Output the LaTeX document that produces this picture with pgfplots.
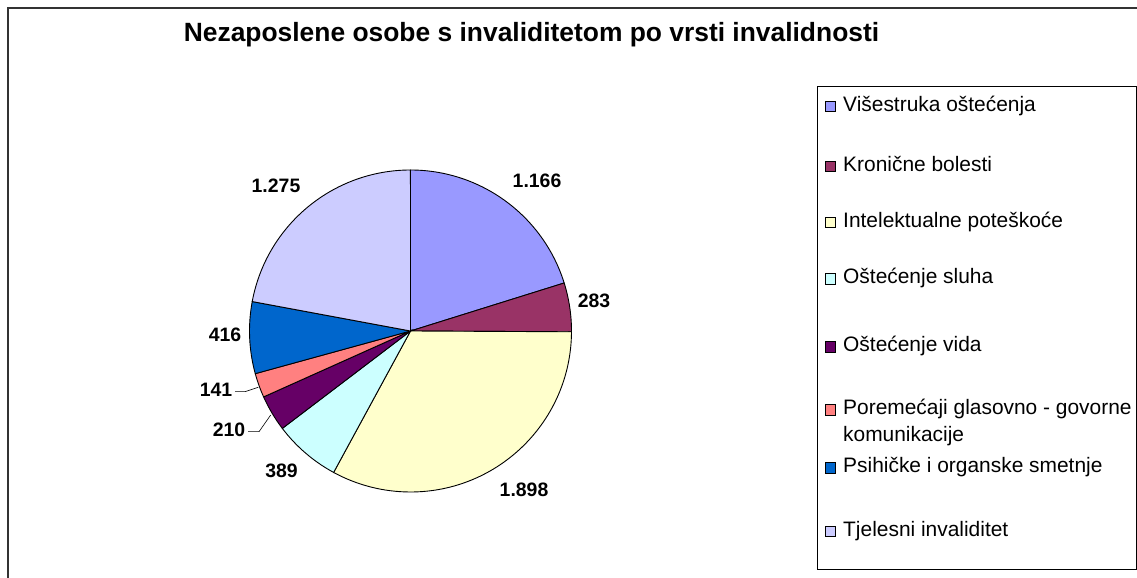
\documentclass[border=0pt]{standalone}
\usepackage{pgfplots}
\usepackage{pgfplotstable}
\pgfplotsset{compat=1.18}
\usepackage{fontspec}
\setmainfont{Liberation Sans}
\definecolor{c1}{HTML}{9999FF}
\definecolor{c2}{HTML}{993366}
\definecolor{c3}{HTML}{FFFFCC}
\definecolor{c4}{HTML}{CCFFFF}
\definecolor{c5}{HTML}{660066}
\definecolor{c6}{HTML}{FF8080}
\definecolor{c7}{HTML}{0066CC}
\definecolor{c8}{HTML}{CCCCFF}
\pgfplotstableread{
id value color
1 1166 c1
2 283 c2
3 1898 c3
4 389 c4
5 210 c5
6 141 c6
7 416 c7
8 1275 c8
}\piedata
\begin{document}
\begin{tikzpicture}
\begin{axis}[at={(0,0)}, anchor=south west, scale only axis,
  width=1137bp, height=578bp, xmin=0, xmax=1137, ymin=0, ymax=578,
  hide axis, clip=false]
\def\cx{410.5}\def\cy{247}\def\R{161}
\def\total{0}
\pgfplotsforeachungrouped \i in {0,...,7}{%
  \pgfplotstablegetelem{\i}{value}\of\piedata
  \pgfmathsetmacro{\total}{\total+\pgfplotsretval}%
}
\def\curang{90}
\pgfplotsforeachungrouped \i in {0,...,7}{%
  \pgfplotstablegetelem{\i}{value}\of\piedata
  \pgfmathsetmacro{\sweep}{\pgfplotsretval/\total*360}%
  \pgfmathsetmacro{\endang}{\curang-\sweep}%
  \pgfplotstablegetelem{\i}{color}\of\piedata
  \edef\temp{\noexpand\filldraw[fill=\pgfplotsretval, draw=black, line width=0.9bp]
    (axis cs:\cx,\cy) -- (axis cs:{\cx+\R*cos(\curang)},{\cy+\R*sin(\curang)})
    arc[start angle=\curang, end angle=\endang, radius=\R bp] -- cycle;}%
  \temp
  \global\let\curang\endang
}
% title
\node[anchor=base, inner sep=0, font=\bfseries\fontsize{26.5}{30}\selectfont]
  at (axis cs:531.5,536) {Nezaposlene osobe s invaliditetom po vrsti invalidnosti};
% data labels
\tikzset{lbl/.style={anchor=base, inner sep=0, font=\bfseries\fontsize{19.5}{22}\selectfont}}
\node[lbl] at (axis cs:537,390) {1.166};
\node[lbl] at (axis cs:594,270) {283};
\node[lbl] at (axis cs:524,81) {1.898};
\node[lbl] at (axis cs:281.5,100) {389};
\node[lbl] at (axis cs:229,141) {210};
\node[lbl] at (axis cs:216,181) {141};
\node[lbl] at (axis cs:225,236) {416};
\node[lbl] at (axis cs:276,385) {1.275};
\draw[line width=0.6bp] (axis cs:235,186.3) -- (axis cs:245,186.3) -- (axis cs:258.3,190.7);
\draw[line width=0.6bp] (axis cs:248,146.3) -- (axis cs:259,146.3) -- (axis cs:270.7,163);
% frame
\draw[line width=2bp, black!80] (axis cs:8,0) -- (axis cs:8,570) -- (axis cs:1137,570);
% legend
\draw[line width=1bp] (axis cs:817,491) rectangle (axis cs:1136,8);
\tikzset{leg/.style={anchor=base west, inner sep=0, font=\fontsize{21}{24}\selectfont}}
\foreach \c/\b/\t in {c1/111.7/{Višestruka oštećenja}, c2/171.7/{Kronične bolesti},
  c3/227.7/{Intelektualne poteškoće}, c4/284/{Oštećenje sluha}, c5/352/{Oštećenje vida},
  c6/415/{Poremećaji glasovno - govorne}, c7/473/{Psihičke i organske smetnje},
  c8/536.7/{Tjelesni invaliditet}}{%
  \edef\temp{\noexpand\filldraw[fill=\c, draw=black, line width=0.8bp]
    (axis cs:825,{578-\b}) rectangle (axis cs:835.5,{588.5-\b});
    \noexpand\node[leg] at (axis cs:843,{578-\b}) {\unexpanded\expandafter{\t}};}%
  \temp
}
\node[leg] at (axis cs:843,136) {komunikacije};
\end{axis}
\pgfresetboundingbox
\path[use as bounding box] (0,0) rectangle (1137bp,578bp);
\end{tikzpicture}
\end{document}
